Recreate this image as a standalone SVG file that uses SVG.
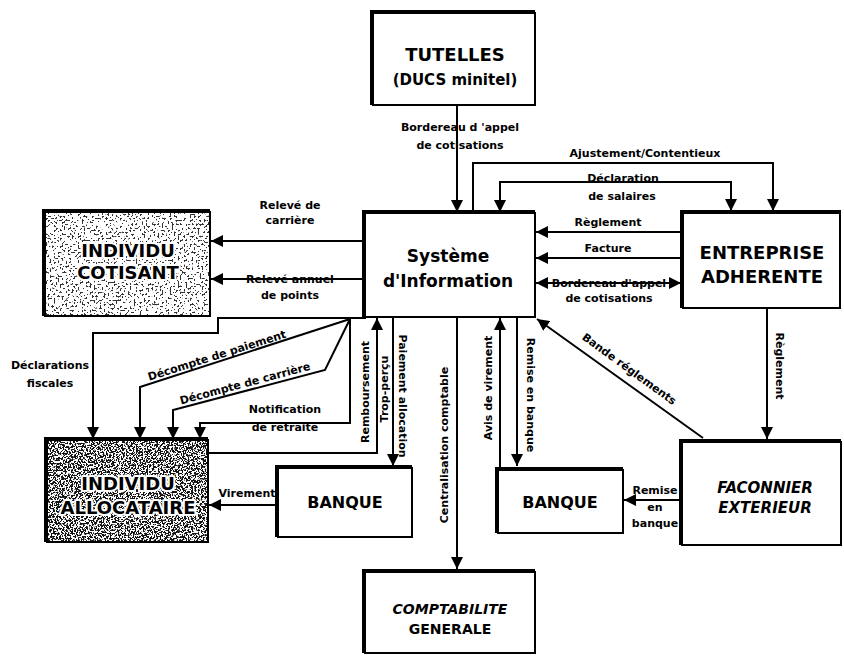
<svg xmlns="http://www.w3.org/2000/svg" width="844" height="664" viewBox="0 0 844 664">
<style>
.sh{fill:#000}
.bx{fill:#fff;stroke:#000;stroke-width:2}
.ln{fill:none;stroke:#000;stroke-width:2}
.ar{marker-end:url(#ah)}
.t{font-family:"DejaVu Sans","Liberation Sans",sans-serif;font-weight:bold;fill:#000;text-anchor:middle}
.lb{font-size:11px}
.big{font-size:18px}
.mid{font-size:16px}
.it{font-style:italic;font-size:15px}
.halo{paint-order:stroke;stroke:#fff;stroke-width:4;stroke-linejoin:round}
</style>
<defs>
<marker id="ah" viewBox="0 0 10 10" refX="10" refY="5" markerWidth="12" markerHeight="12" markerUnits="userSpaceOnUse" orient="auto-start-reverse"><path d="M0,0 L10,5 L0,10 z" fill="#000"/></marker>
<filter id="spk1" x="0" y="0" width="1" height="1" color-interpolation-filters="sRGB">
<feTurbulence type="fractalNoise" baseFrequency="0.5" numOctaves="3" seed="4" result="n"/>
<feColorMatrix in="n" type="matrix" values="0 0 0 0 0.2  0 0 0 0 0.2  0 0 0 0 0.2  -25 0 0 0 10.5" result="d"/>
<feFlood flood-color="#fff" result="w"/>
<feMerge><feMergeNode in="w"/><feMergeNode in="d"/></feMerge>
</filter>
<filter id="spk2" x="0" y="0" width="1" height="1" color-interpolation-filters="sRGB">
<feTurbulence type="fractalNoise" baseFrequency="0.6" numOctaves="3" seed="9" result="n"/>
<feColorMatrix in="n" type="matrix" values="0 0 0 0 0.08  0 0 0 0 0.08  0 0 0 0 0.08  -25 0 0 0 13" result="d"/>
<feFlood flood-color="#fff" result="w"/>
<feMerge><feMergeNode in="w"/><feMergeNode in="d"/></feMerge>
</filter>
</defs>
<rect width="844" height="664" fill="#fff"/>

<g id="connectors">
<path class="ln ar" d="M457,105 V212"/>
<text class="t lb" x="460" y="131">Bordereau d 'appel</text>
<text class="t lb" x="460" y="149">de cotisations</text>
<path class="ln ar" d="M473,213 V163 H773 V211"/>
<text class="t lb" x="645" y="157">Ajustement/Contentieux</text>
<path class="ln ar" d="M616,182 H500 V212"/>
<path class="ln ar" d="M616,182 H731 V211"/>
<text class="t lb" x="623" y="182">Déclaration</text>
<text class="t lb" x="622" y="200">de salaires</text>
<path class="ln ar" d="M682,232 H536"/>
<text class="t lb" x="608" y="226">Règlement</text>
<path class="ln ar" d="M682,258 H536"/>
<text class="t lb" x="608" y="252">Facture</text>
<path class="ln ar" d="M610,283 H536"/>
<path class="ln ar" d="M610,283 H681"/>
<text class="t lb" x="609" y="287">Bordereau d'appel</text>
<text class="t lb" x="609" y="302">de cotisations</text>
<path class="ln ar" d="M365,241 H211"/>
<text class="t lb" x="290" y="209">Relevé de</text>
<text class="t lb" x="290" y="224">carrière</text>
<path class="ln ar" d="M365,279 H211"/>
<text class="t lb" x="290" y="283">Relevé annuel</text>
<text class="t lb" x="290" y="299">de points</text>
<path class="ln ar" d="M366,318 H218 V333 H93 V439"/>
<text class="t lb" x="50" y="369">Déclarations</text>
<text class="t lb" x="50" y="387">fiscales</text>
<path class="ln ar" d="M350,319 L140,387 V439"/>
<text class="t lb" transform="translate(218,359) rotate(-17.5)">Décompte de paiement</text>
<path class="ln ar" d="M350,319 L325,370 L173,410 V439"/>
<text class="t lb" transform="translate(246,387) rotate(-15)">Décompte de carrière</text>
<path class="ln ar" d="M350,319 V423 H200 V439"/>
<text class="t lb" x="285" y="413">Notification</text>
<text class="t lb" x="285" y="431">de retraite</text>
<path class="ln ar" d="M209,453 H377 V318"/>
<text class="t lb" transform="translate(369,392) rotate(-90)">Remboursement</text>
<text class="t lb" transform="translate(388,389) rotate(-90)">Trop-perçu</text>
<path class="ln ar" d="M393,318 V466"/>
<text class="t lb" transform="translate(399,396) rotate(90)">Paiement allocation</text>
<path class="ln ar" d="M278,505 H209"/>
<text class="t lb" x="247" y="497">Virement</text>
<path class="ln ar" d="M457,318 V569"/>
<text class="t lb" transform="translate(448,445) rotate(-90)">Centralisation comptable</text>
<path class="ln ar" d="M500,468 V318"/>
<text class="t lb" transform="translate(492,388) rotate(-90)">Avis de virement</text>
<path class="ln ar" d="M517,318 V466"/>
<text class="t lb" transform="translate(527,395) rotate(90)">Remise en banque</text>
<path class="ln ar" d="M703,438 L537,319"/>
<text class="t lb" transform="translate(627,372) rotate(36)">Bande réglements</text>
<path class="ln ar" d="M767,308 V439"/>
<text class="t lb" transform="translate(776,366) rotate(90)">Règlement</text>
<path class="ln ar" d="M682,500 H624"/>
<text class="t lb" x="655" y="494">Remise</text>
<text class="t lb" x="655" y="511">en</text>
<text class="t lb" x="655" y="527">banque</text>
</g>

<g id="tutelles">
<rect class="sh" x="370" y="10" width="165" height="95"/>
<rect class="bx" x="373" y="13" width="162" height="92"/>
<text class="t big" x="455" y="61">TUTELLES</text>
<text class="t" style="font-size:15px" x="455" y="85">(DUCS minitel)</text>
</g>

<g id="si">
<rect class="sh" x="362" y="210" width="173" height="107"/>
<rect class="bx" x="365" y="213" width="170" height="104"/>
<text class="t" style="font-size:17px" x="448" y="262">Système</text>
<text class="t" style="font-size:17px" x="448" y="287">d'Information</text>
</g>

<g id="entreprise">
<rect class="sh" x="680" y="210" width="161" height="98"/>
<rect class="bx" x="683" y="213" width="157" height="95"/>
<text class="t big" x="762" y="259">ENTREPRISE</text>
<text class="t big" x="762" y="283">ADHERENTE</text>
</g>

<g id="cotisant">
<rect class="sh" x="42" y="209" width="168" height="107"/>
<rect x="45" y="212" width="165" height="104" filter="url(#spk1)"/>
<rect x="45" y="212" width="165" height="104" fill="none" stroke="#000" stroke-width="2"/>
<text class="t big halo" x="128" y="257">INDIVIDU</text>
<text class="t big halo" x="128" y="279">COTISANT</text>
</g>

<g id="allocataire">
<rect class="sh" x="44" y="437" width="164" height="105"/>
<rect x="47" y="440" width="161" height="102" filter="url(#spk2)"/>
<rect x="47" y="440" width="161" height="102" fill="none" stroke="#000" stroke-width="2"/>
<text class="t big halo" x="128" y="490">INDIVIDU</text>
<text class="t big halo" x="128" y="514">ALLOCATAIRE</text>
</g>

<g id="banque1">
<rect class="sh" x="275" y="465" width="137" height="72"/>
<rect class="bx" x="278" y="468" width="134" height="69"/>
<text class="t mid" x="345" y="508">BANQUE</text>
</g>

<g id="banque2">
<rect class="sh" x="495" y="467" width="128" height="66"/>
<rect class="bx" x="498" y="470" width="125" height="63"/>
<text class="t mid" x="560" y="508">BANQUE</text>
</g>

<g id="faconnier">
<rect class="sh" x="679" y="439" width="162" height="106"/>
<rect class="bx" x="682" y="442" width="159" height="103"/>
<text class="t it" x="765" y="493">FACONNIER</text>
<text class="t it" x="765" y="513">EXTERIEUR</text>
</g>

<g id="comptabilite">
<rect class="sh" x="362" y="569" width="173" height="84"/>
<rect class="bx" x="365" y="572" width="170" height="81"/>
<text class="t" style="font-size:14px;font-style:italic" x="450" y="614">COMPTABILITE</text>
<text class="t" style="font-size:14px" x="450" y="634">GENERALE</text>
</g>
</svg>
